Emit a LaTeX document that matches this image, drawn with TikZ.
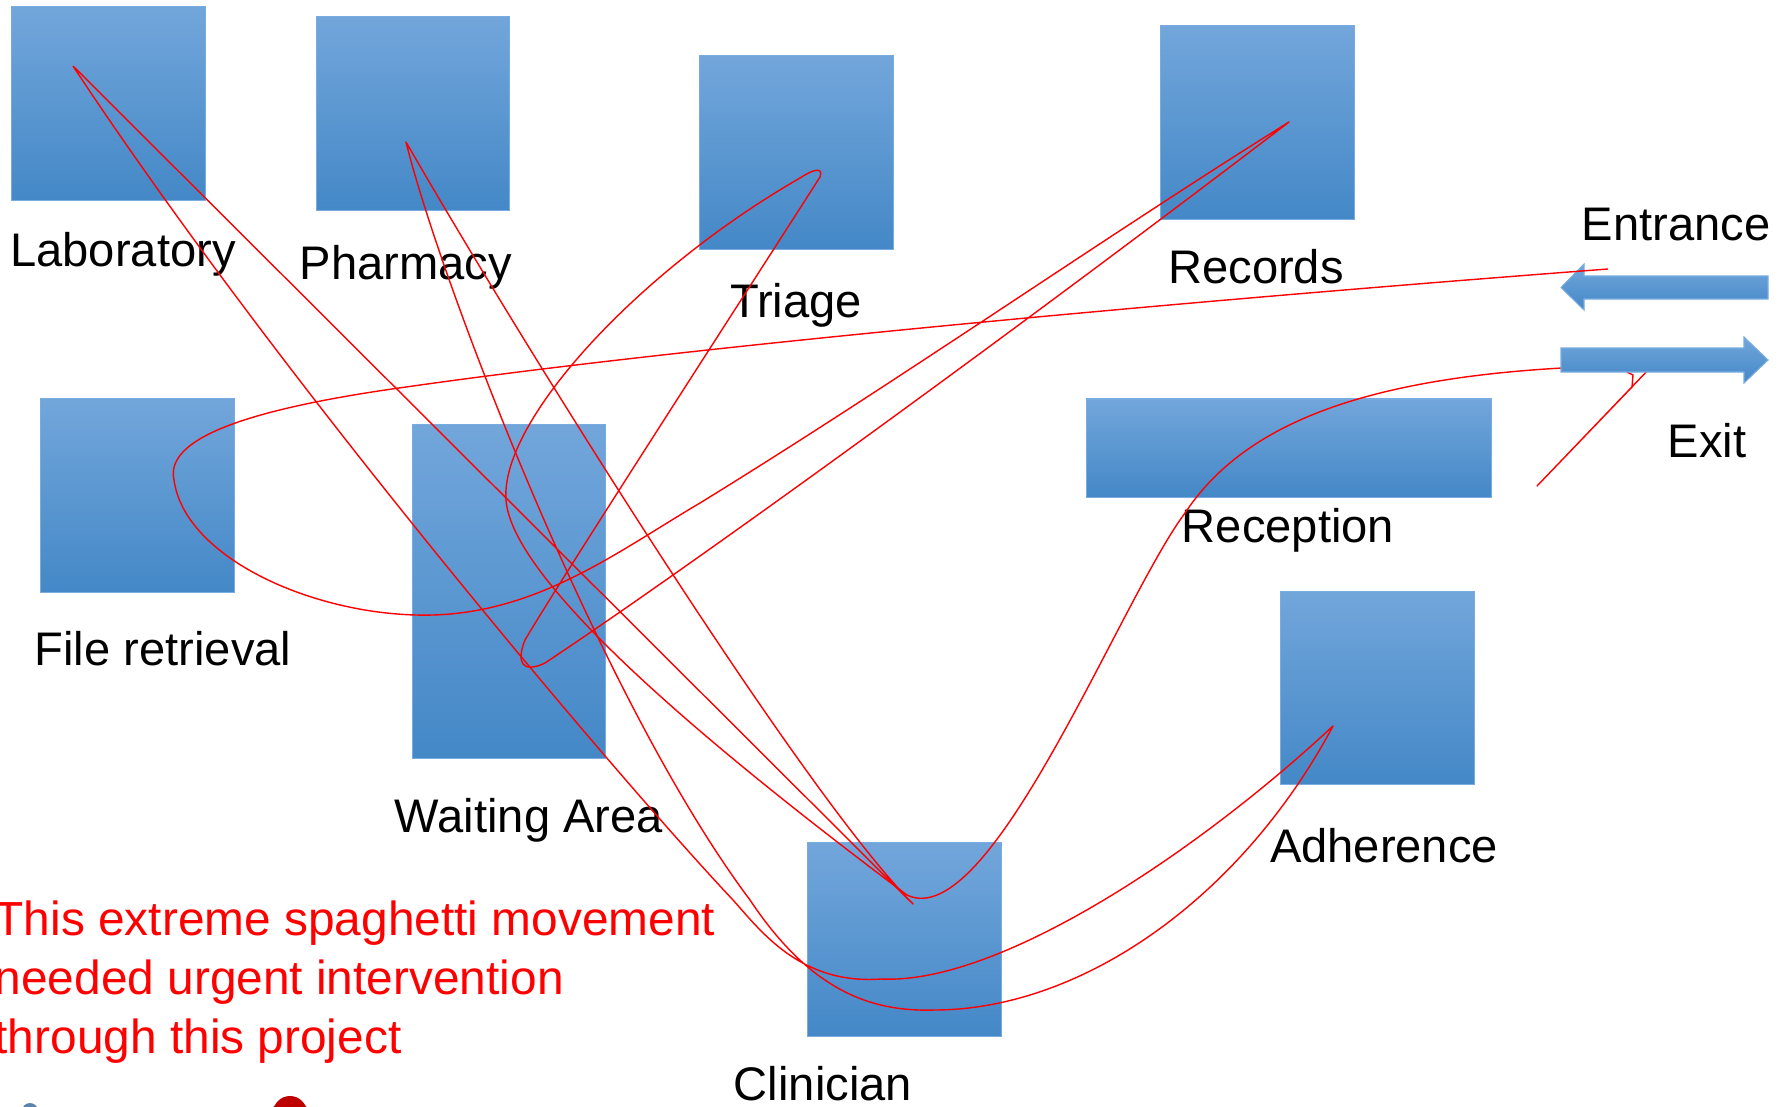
\documentclass[tikz,border=0pt]{standalone}
\usepackage{fontspec}
\setmainfont{Liberation Sans}
\definecolor{roomtop}{RGB}{114,166,219}
\definecolor{roombot}{RGB}{68,136,199}
\definecolor{roomedge}{RGB}{120,172,224}
\begin{document}
\begin{tikzpicture}[x=0.01cm,y=-0.01cm,
  room/.style={draw=roomedge,line width=0.3pt,top color=roomtop,bottom color=roombot,inner sep=0pt,minimum width=1.93cm,minimum height=1.93cm},
  lbl/.style={anchor=base,inner sep=0pt,font=\fontsize{13.4}{16}\selectfont},
  note/.style={anchor=base west,inner sep=0pt,text=red,font=\fontsize{13.6}{16}\selectfont},
  walk/.style={red,line width=0.4pt,line join=round}]
\useasboundingbox (0,0) rectangle (1791,1106);

\node[room] (lab) at (108.5,103.5) {};
\node[room] (pharm) at (413,113.5) {};
\node[room] (triage) at (796.5,152.5) {};
\node[room] (records) at (1257.5,122.5) {};
\node[room] (fileret) at (137.5,495.5) {};
\node[room,minimum height=3.33cm] (waiting) at (509,591.5) {};
\node[room,minimum width=4.04cm,minimum height=0.98cm] (reception) at (1289,448) {};
\node[room] (adherence) at (1377.5,688) {};
\node[room] (clinician) at (904.5,939.5) {};

\node[lbl] (labtxt) at (123,266) {Laboratory};
\node[lbl] (pharmtxt) at (406,279) {Pharmacy};
\node[lbl] (triagetxt) at (796,317) {Triage};
\node[lbl] (recordstxt) at (1256,283) {Records};
\node[lbl] (filetxt) at (163,665) {File retrieval};
\node[lbl] (waitingtxt) at (529,832) {Waiting Area};
\node[lbl] (receptiontxt) at (1288,542) {Reception};
\node[lbl] (adherencetxt) at (1384,862) {Adherence};
\node[lbl] (cliniciantxt) at (823,1100) {Clinician};
\node[lbl] (entrancetxt) at (1676,240) {Entrance};
\node[lbl] (exittxt) at (1707,457) {Exit};

\node[note] (note1) at (-6,935) {This extreme spaghetti movement};
\node[note] (note2) at (-6,994) {needed urgent intervention};
\node[note] (note3) at (-6,1053) {through this project};

\fill[roomtop!80!black] (30,1111) circle (8);
\fill[black!65] (290,1114) ellipse (20 and 13);
\fill[red!75!black] (290,1113) circle (17);

\path[room] (1561,287.5) -- (1584,264) -- (1584,276) -- (1768,276) -- (1768,299) -- (1584,299) -- (1584,310) -- cycle;

\coordinate (labtip) at (73,66);
\coordinate (pharmtip) at (406,142);
\coordinate (triagetip) at (820,177);
\coordinate (rectip) at (1289,122);
\coordinate (adhtip) at (1333,726);
\coordinate (clintip) at (913,904);
\coordinate (exitspk) at (1537,486);

\draw[walk] (1608,269) .. controls (1200,300) and (700,345) .. (406,387)
  .. controls (240,410) and (165,440) .. (174,480)
  .. controls (185,560) and (320,618) .. (433,615)
  .. controls (540,612) and (620,550) .. (700,503)
  .. controls (900,380) and (1100,240) .. (rectip)
  .. controls (1030,320) and (700,560) .. (545,663)
  .. controls (522,674) and (516,662) .. (525,640)
  .. controls (560,580) and (780,240) .. (triagetip)
  .. controls (824,166) and (812,170) .. (800,178)
  .. controls (640,270) and (500,420) .. (506,500)
  .. controls (512,580) and (700,740) .. (907,895)
  .. controls (990,935) and (1120,600) .. (1185,513)
  .. controls (1240,430) and (1350,380) .. (1562,368)
  -- (1650,368) -- (exitspk) -- (1632,387) -- (1633,375) -- (1627,372);

\draw[walk] (labtip) -- (clintip)
  .. controls (800,790) and (520,340) .. (pharmtip)
  .. controls (440,280) and (600,700) .. (750,900)
  .. controls (810,990) and (870,1012) .. (934,1010)
  .. controls (1080,1010) and (1240,900) .. (adhtip)
  .. controls (1200,850) and (1000,985) .. (881,979)
  .. controls (800,985) and (760,930) .. (733,900)
  .. controls (620,780) and (280,380) .. (labtip);

\path[room] (1561,348) -- (1744,348) -- (1744,337) -- (1768,360) -- (1744,383) -- (1744,372) -- (1561,372) -- cycle;
\end{tikzpicture}
\end{document}
